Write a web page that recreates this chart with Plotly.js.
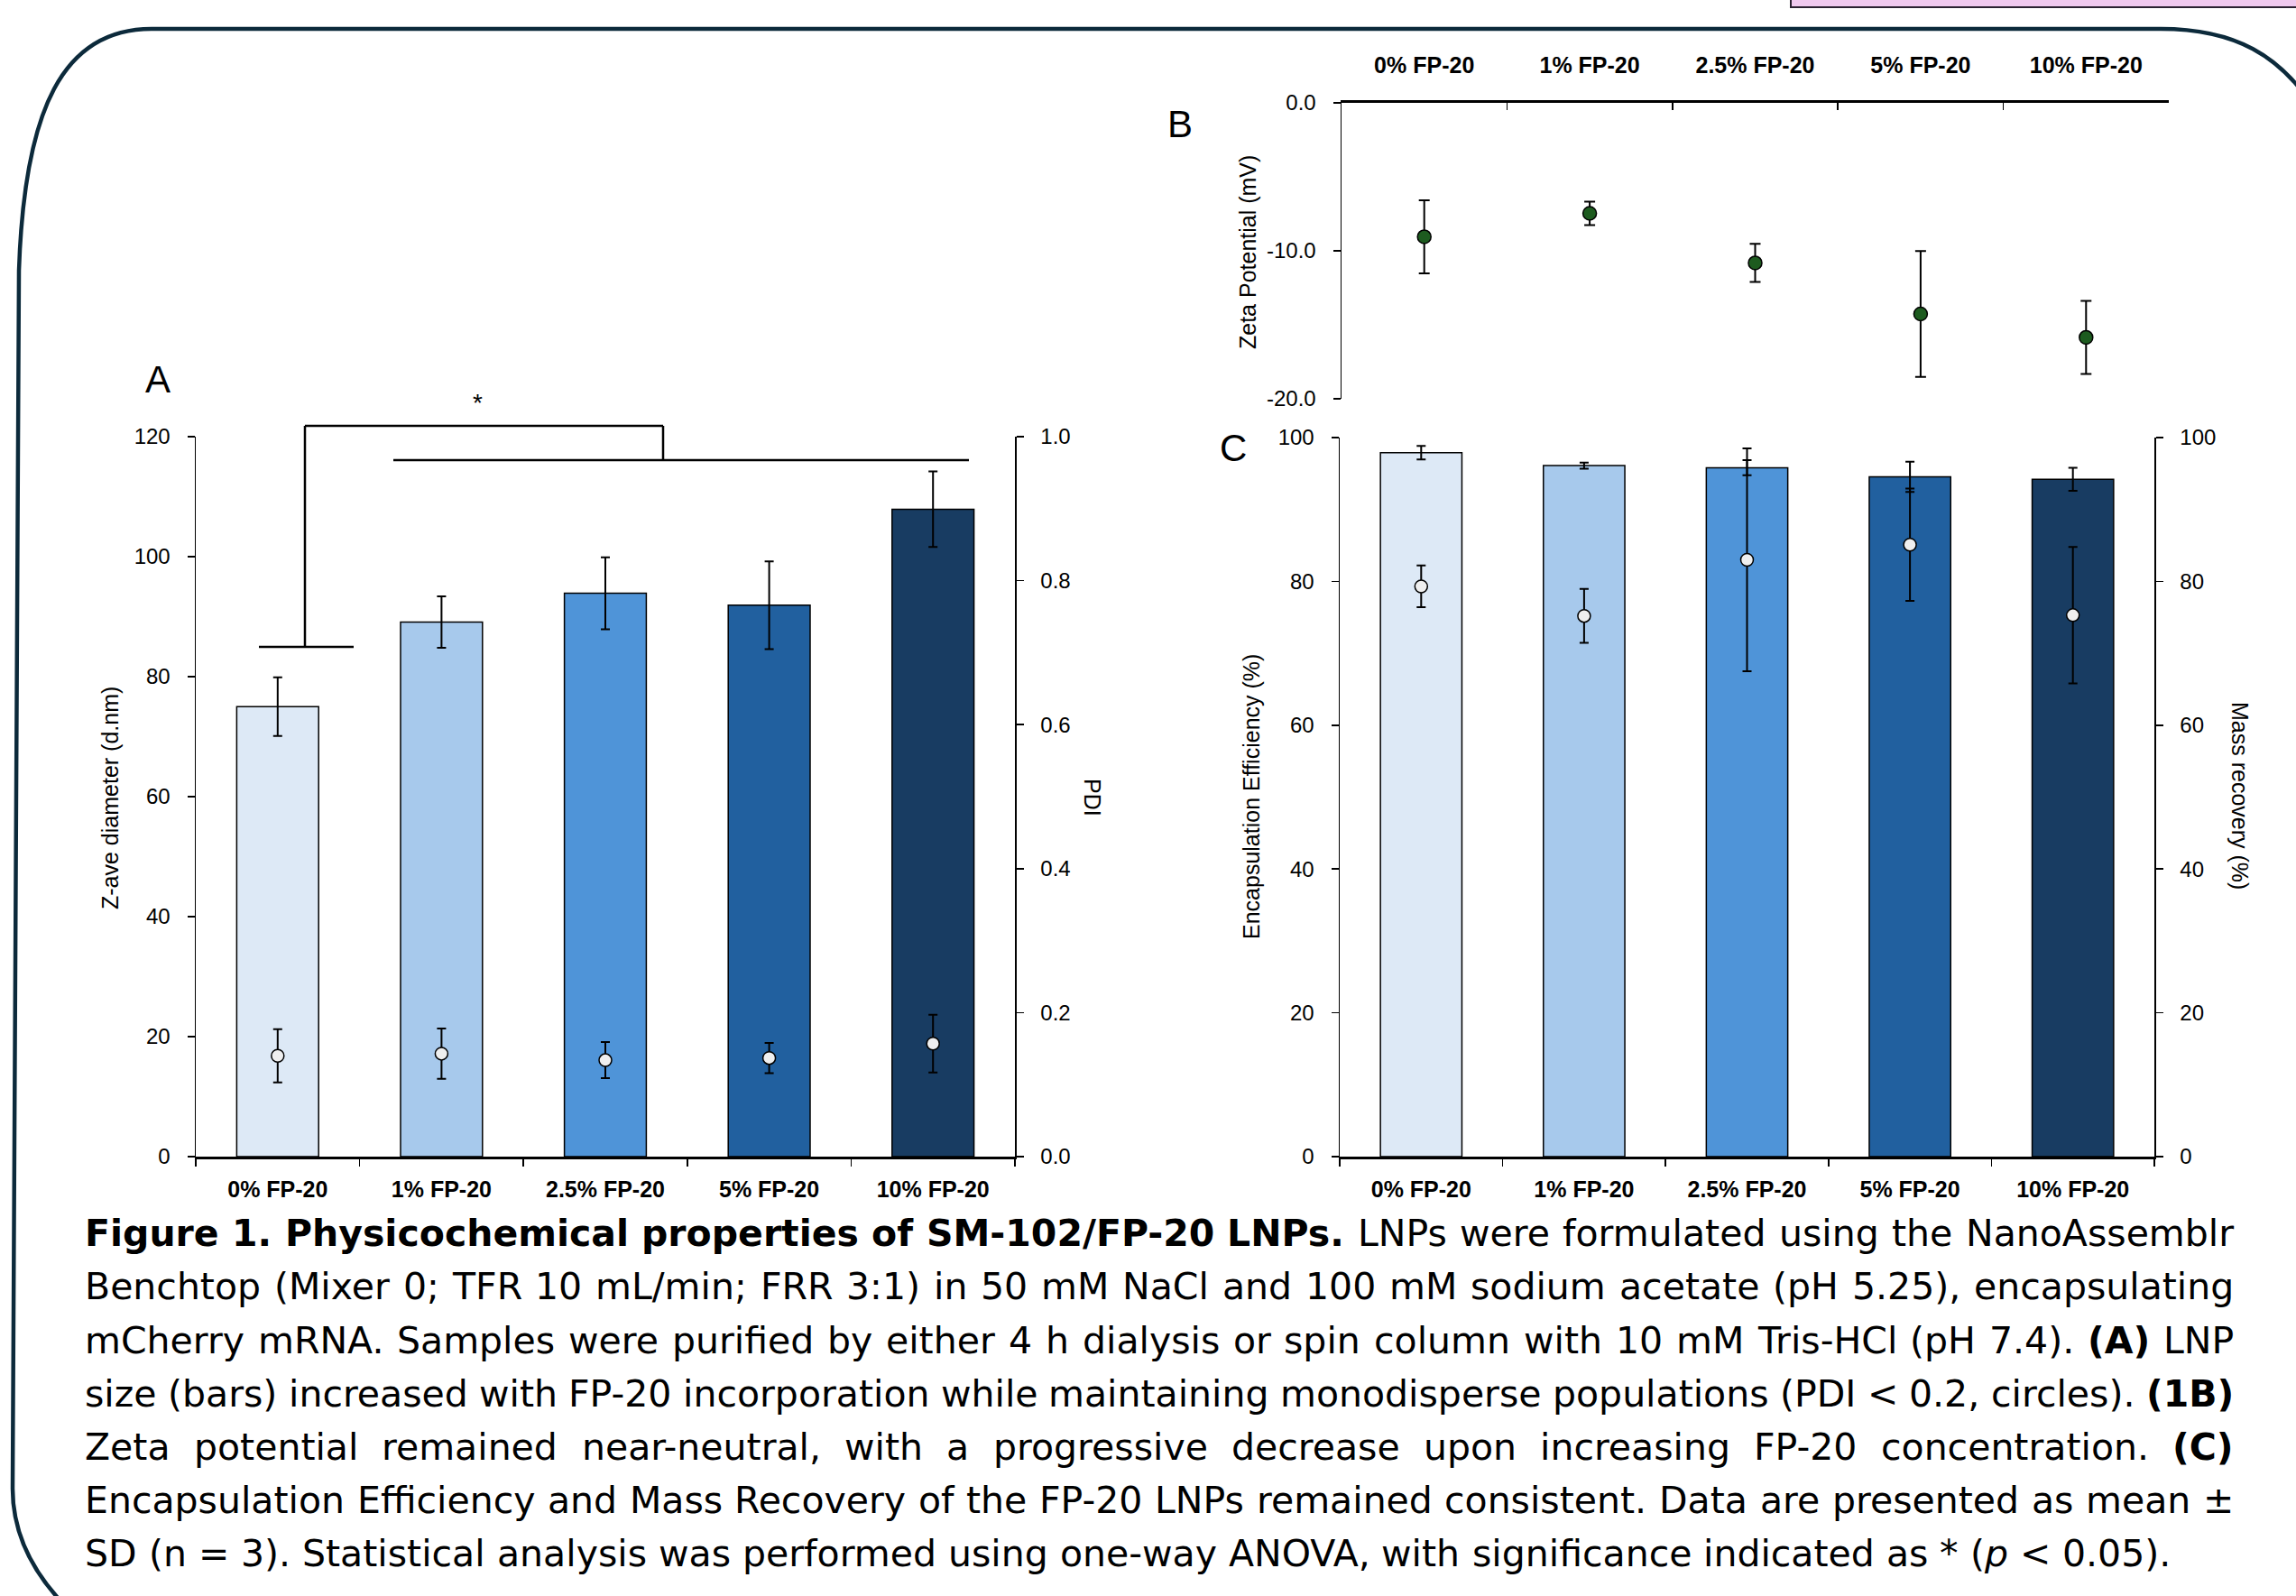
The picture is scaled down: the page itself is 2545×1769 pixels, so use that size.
<!DOCTYPE html>
<html><head><meta charset="utf-8">
<script src="https://cdn.plot.ly/plotly-3.0.1.min.js"></script>
<style>html,body{margin:0;padding:0;background:#fff;overflow:hidden}#chart{width:2545px;height:1769px}</style>
</head><body><div id="chart"></div>
<script>
// ---------- data ----------
const categories = ['0% FP-20','1% FP-20','2.5% FP-20','5% FP-20','10% FP-20'];
const barColors = ['#dde9f6','#a7c9ec','#4f94d8','#21609f','#183c62'];
const zaveDiameter = [75.0, 89.1, 93.9, 91.9, 107.9];
const zaveSD = [4.9, 4.3, 6.0, 7.3, 6.3];
const pdi = [0.140, 0.143, 0.134, 0.137, 0.157];
const pdiSD = [0.037, 0.035, 0.025, 0.021, 0.040];
const zeta = [-9.05, -7.47, -10.82, -14.27, -15.85];
const zetaSD = [2.47, 0.79, 1.29, 4.25, 2.47];
const encapEff = [97.9, 96.1, 95.8, 94.55, 94.2];
const encapSD = [0.94, 0.42, 1.05, 2.1, 1.6];
const massRecovery = [79.3, 75.2, 83.0, 85.1, 75.3];
const massRecoverySD = [2.9, 3.75, 15.5, 7.8, 9.5];
const zetaTickVals = [0, -10, -20];
const zetaTickText = ['0.0', '-10.0', '-20.0'];

const captionLines = [
  [['Figure 1. Physicochemical properties of SM-102/FP-20 LNPs.','b'],[' LNPs were formulated using the NanoAssemblr','r']],
  [['Benchtop (Mixer 0; TFR 10 mL/min; FRR 3:1) in 50 mM NaCl and 100 mM sodium acetate (pH 5.25), encapsulating','r']],
  [['mCherry mRNA. Samples were purified by either 4 h dialysis or spin column with 10 mM Tris-HCl (pH 7.4). ','r'],['(A)','b'],[' LNP','r']],
  [['size (bars) increased with FP-20 incorporation while maintaining monodisperse populations (PDI < 0.2, circles). ','r'],['(1B)','b']],
  [['Zeta potential remained near-neutral, with a progressive decrease upon increasing FP-20 concentration. ','r'],['(C)','b']],
  [['Encapsulation Efficiency and Mass Recovery of the FP-20 LNPs remained consistent. Data are presented as mean \u00b1','r']],
  [['SD (n = 3). Statistical analysis was performed using one-way ANOVA, with significance indicated as * (','r'],['p','i'],[' < 0.05).','r']]
];

// ---------- geometry helpers (page pixels -> paper) ----------
const W = 2545, H = 1769;
const X = p => p / W;
const Y = p => 1 - p / H;

const AX = {family:'Liberation Sans, Arial, sans-serif', size:24, color:'#000'};
const CAT = {family:'Liberation Sans, Arial, sans-serif', size:25, color:'#000', weight:'bold'};

function yax(extra){
  return Object.assign({showgrid:false, zeroline:false, showline:true, linecolor:'#000', linewidth:1.5,
    ticks:'outside', tickcolor:'#000', tickwidth:1.5, ticklen:8, tickfont:AX, fixedrange:true,
    ticklabelstandoff:14}, extra);
}
function xax(extra){
  return Object.assign({type:'category', range:[-0.5,4.5], tickson:'boundaries', showgrid:false, zeroline:false,
    showline:true, linecolor:'#000', linewidth:2.5, ticks:'outside', tickcolor:'#000', tickwidth:1.5, ticklen:8,
    tickfont:CAT, fixedrange:true, ticklabelstandoff:12}, extra);
}

const errStyle = (arr, w) => ({type:'data', array:arr, visible:true, color:'#000', thickness:2, width:w});

const traces = [
  {type:'bar', x:categories, y:zaveDiameter, xaxis:'x', yaxis:'y', width:0.5,
   marker:{color:barColors, line:{color:'#000', width:1.5}}, error_y:errStyle(zaveSD,5)},
  {type:'scatter', mode:'markers', x:categories, y:pdi, xaxis:'x', yaxis:'y2',
   marker:{color:'#efefef', size:14, line:{color:'#000', width:1.5}}, error_y:errStyle(pdiSD,5)},
  {type:'scatter', mode:'markers', x:categories, y:zeta, xaxis:'x2', yaxis:'y3',
   marker:{color:'#1d5b1f', size:15, line:{color:'#000', width:1.5}}, error_y:errStyle(zetaSD,6)},
  {type:'bar', x:categories, y:encapEff, xaxis:'x3', yaxis:'y4', width:0.5,
   marker:{color:barColors, line:{color:'#000', width:1.5}}, error_y:errStyle(encapSD,5)},
  {type:'scatter', mode:'markers', x:categories, y:massRecovery, xaxis:'x3', yaxis:'y5',
   marker:{color:'#efefef', size:14, line:{color:'#000', width:1.5}}, error_y:errStyle(massRecoverySD,5)}
];

const layout = {
  width:W, height:H, margin:{l:0,r:0,t:0,b:0}, paper_bgcolor:'#fff', plot_bgcolor:'rgba(0,0,0,0)',
  showlegend:false, hovermode:false, bargap:0.5,
  xaxis: xax({domain:[X(217), X(1125)], anchor:'y'}),
  yaxis: yax({domain:[Y(1282), Y(484)], anchor:'x', range:[0,120], dtick:20}),
  yaxis2: yax({overlaying:'y', side:'right', anchor:'x', range:[0,1], dtick:0.2, tickformat:'.1f'}),
  xaxis2: xax({domain:[X(1487), X(2404)], anchor:'y3', side:'top', ticks:'inside', linewidth:3, ticklabelstandoff:20}),
  yaxis3: yax({domain:[Y(442), Y(114)], anchor:'x2', range:[-20,0], tickvals:zetaTickVals, ticktext:zetaTickText}),
  xaxis3: xax({domain:[X(1485), X(2388)], anchor:'y4'}),
  yaxis4: yax({domain:[Y(1282), Y(485)], anchor:'x3', range:[0,100], dtick:20}),
  yaxis5: yax({overlaying:'y4', side:'right', anchor:'x3', range:[0,100], dtick:20}),
  shapes:[], annotations:[]
};

// significance bracket (panel A)
const br = {color:'#000', width:2.5};
[[287,717,392,717],[338,717,338,472],[338,472,735,472],[735,472,735,510],[436,510,1074,510]].forEach(s=>{
  layout.shapes.push({type:'line', xref:'paper', yref:'paper', x0:X(s[0]), y0:Y(s[1]), x1:X(s[2]), y1:Y(s[3]), line:br});
});

// frame
const P = (x,y) => X(x).toFixed(5)+','+Y(y).toFixed(5);
layout.shapes.push({type:'path', xref:'paper', yref:'paper', layer:'above',
  path:'M'+P(2565,120)+' C'+P(2528,62)+' '+P(2478,32)+' '+P(2395,32)+' L'+P(168,32)+' C'+P(70,32)+' '+P(27,120)+' '+P(21,300)+
       ' L'+P(14,1650)+' C'+P(14,1705)+' '+P(40,1752)+' '+P(88,1795),
  line:{color:'#0c2a3b', width:4.5}});
layout.shapes.push({type:'rect', xref:'paper', yref:'paper', x0:X(1985), x1:X(2570), y0:Y(8), y1:Y(-10),
  fillcolor:'#efc8ee', line:{color:'#2a2030', width:2}});

// text annotations
function ann(text, x, y, opt){
  layout.annotations.push(Object.assign({text:text, xref:'paper', yref:'paper', x:X(x), y:Y(y), showarrow:false,
    xanchor:'center', yanchor:'middle', font:AX}, opt||{}));
}
const TT = {family:'Liberation Sans, Arial, sans-serif', size:25, color:'#000'};
ann('Z-ave diameter (d.nm)', 122, 885, {textangle:-90, font:TT});
ann('PDI', 1211, 884, {textangle:90, font:TT});
ann('Zeta Potential (mV)', 1383, 280, {textangle:-90, font:TT});
ann('Encapsulation Efficiency (%)', 1387, 883, {textangle:-90, font:TT});
ann('Mass recovery (%)', 2483, 882, {textangle:90, font:TT});
const LET = {family:'Liberation Sans, Arial, sans-serif', size:42, color:'#000'};
ann('A', 175, 421, {font:LET});
ann('B', 1308, 138, {font:LET});
ann('C', 1367, 496, {font:LET});
ann('*', 529, 446, {font:{family:'Liberation Sans, Arial, sans-serif', size:28, color:'#000'}});

// caption, justified word by word
const CF = 'DejaVu Sans';
const cv = document.createElement('canvas').getContext('2d');
function fontStr(style, size){ return (style==='b'?'bold ':style==='i'?'italic ':'')+size+'px "'+CF+'"'; }
function measure(pieces, size){ let w=0; pieces.forEach(([t,s])=>{cv.font=fontStr(s,size); w+=cv.measureText(t).width;}); return w; }
function toWords(segs){
  const words=[]; let cur=[];
  segs.forEach(([t,s])=>{ t.split(' ').forEach((p,i)=>{ if(i>0){ if(cur.length) words.push(cur); cur=[]; } if(p) cur.push([p,s]); }); });
  if(cur.length) words.push(cur); return words;
}
const esc = t => t.replace(/&/g,'&amp;').replace(/</g,'&lt;').replace(/>/g,'&gt;');
function html(pieces){ return pieces.map(([t,s])=>s==='b'?'<b>'+esc(t)+'</b>':s==='i'?'<i>'+esc(t)+'</i>':esc(t)).join(''); }

const left = 93, right = 2475, lastRight = 2430;
const lastWords = toWords(captionLines[6]);
cv.font = fontStr('r',100);
const sp100 = cv.measureText(' ').width;
let nat100 = lastWords.reduce((a,w)=>a+measure(w,100),0) + sp100*(lastWords.length-1);
let csize = Math.max(33, Math.min(41, 100*(lastRight-left)/nat100));
const lineY = [1366, 1425, 1485, 1544, 1603, 1662, 1721];
captionLines.forEach((segs, li)=>{
  const words = toWords(segs);
  const widths = words.map(w=>measure(w,csize));
  const tot = widths.reduce((a,b)=>a+b,0);
  cv.font = fontStr('r',csize);
  const sp = cv.measureText(' ').width;
  const gap = li < captionLines.length-1 ? Math.max(sp*0.5,(right-left-tot)/(words.length-1)) : sp;
  let x = left;
  words.forEach((w,i)=>{
    layout.annotations.push({text:html(w), xref:'paper', yref:'paper', x:X(x), y:Y(lineY[li]+1), showarrow:false,
      xanchor:'left', yanchor:'middle', borderpad:0, font:{family:CF, size:csize, color:'#000'}});
    x += widths[i] + gap;
  });
});

Plotly.newPlot('chart', traces, layout, {displayModeBar:false, staticPlot:true});
</script></body></html>
